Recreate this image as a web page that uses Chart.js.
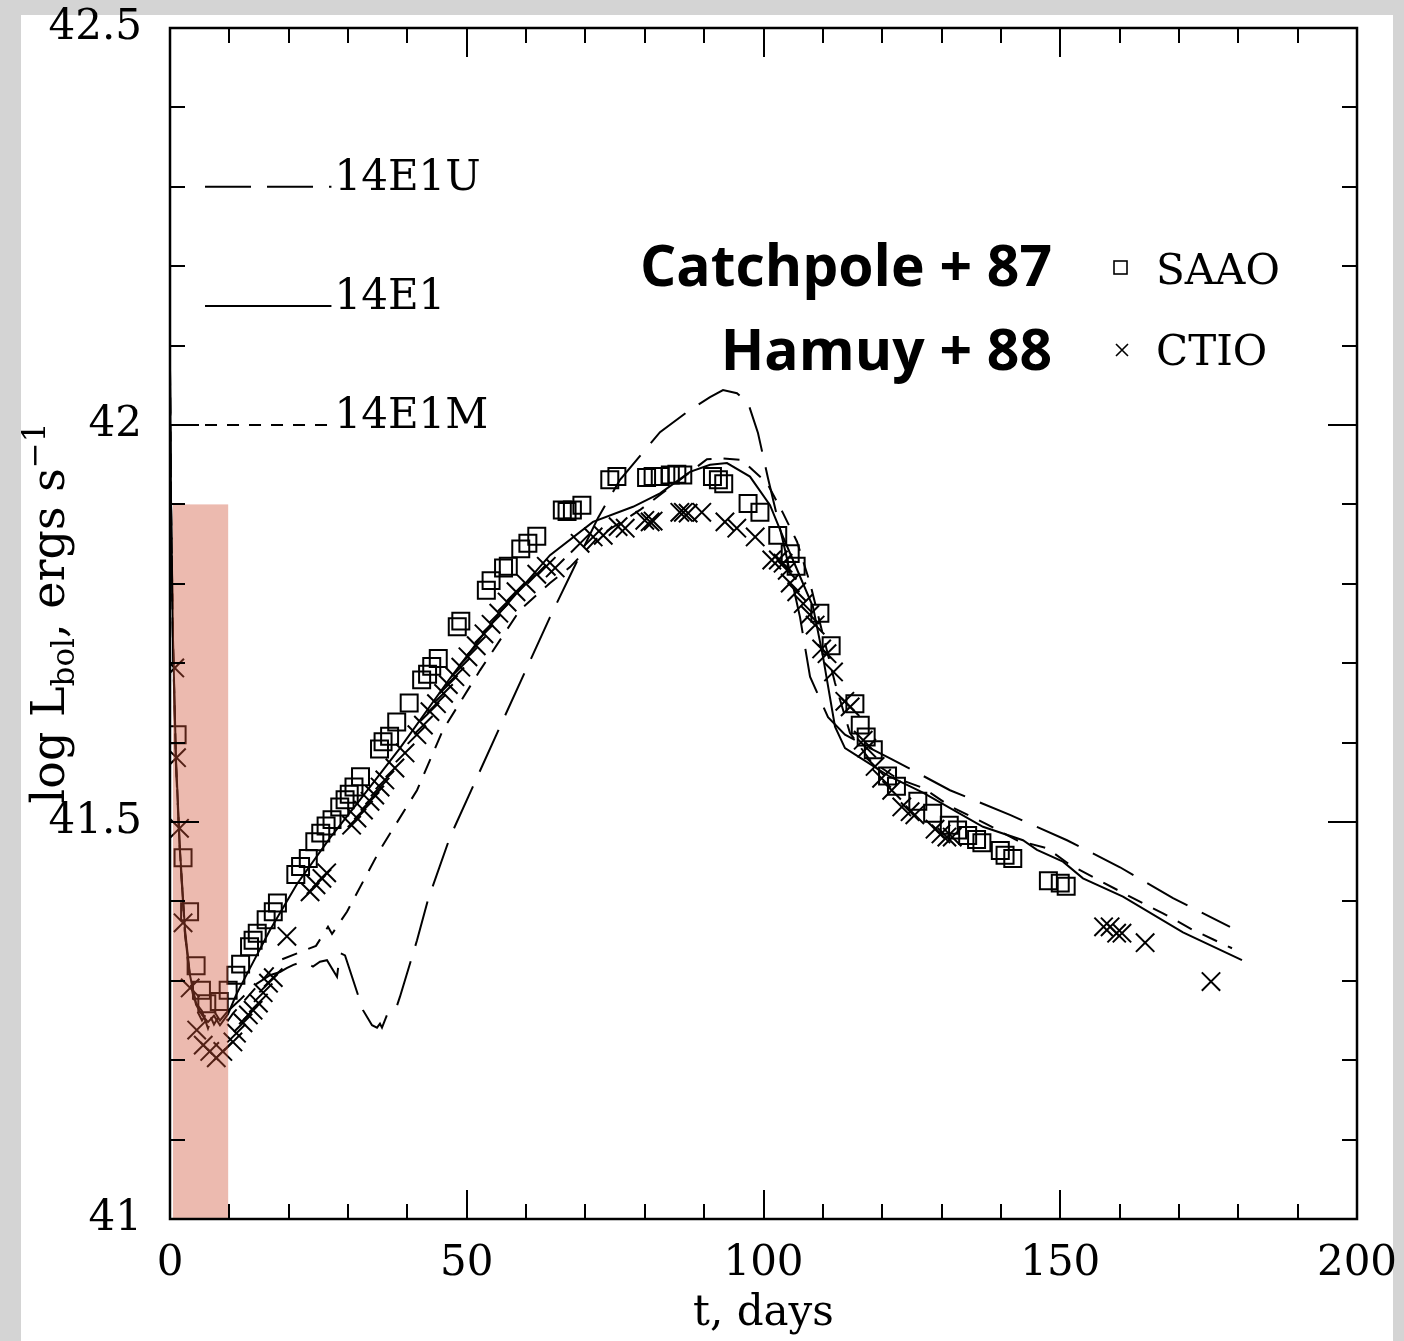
<!DOCTYPE html>
<html>
<head>
<meta charset="utf-8">
<title>SN 1987A bolometric light curve</title>
<script src="https://cdn.jsdelivr.net/npm/chart.js@4.4.0/dist/chart.umd.min.js"></script>
<style>
    html, body { margin: 0; padding: 0; background: #d4d4d4; }
    #box { width: 1404px; height: 1341px; }
</style>
</head>
<body>
<div id="box"><canvas id="lcChart" width="1404" height="1341"></canvas></div>
<script>
// observed points, SAAO (Catchpole+87)
var saaoDays = [1.2, 2.2, 3.3, 4.4, 5.3, 6.2, 8.3, 9.8, 11.1, 11.9,
    13.4, 14.0, 14.7, 16.2, 17.4, 18.1, 21.2, 22.0, 23.3, 24.4,
    25.4, 26.3, 27.3, 28.6, 29.5, 30.2, 31.0, 32.1, 35.3, 35.9,
    37.0, 38.2, 40.3, 42.4, 43.4, 44.1, 45.2, 48.4, 49.0, 53.3,
    54.1, 56.2, 57.0, 59.1, 60.3, 61.8, 66.1, 66.9, 67.8, 69.4,
    74.1, 75.3, 80.3, 81.4, 82.6, 84.3, 85.4, 86.4, 91.4, 92.4,
    93.3, 97.4, 99.4, 102.4, 104.5, 105.5, 109.5, 111.4, 115.4, 116.3,
    117.3, 118.5, 120.9, 122.4, 126.0, 128.5, 131.3, 132.7, 134.4, 135.9,
    136.8, 139.9, 140.7, 142.0, 148.0, 150.0, 151.0];
var saaoLum = [41.610, 41.455, 41.387, 41.319, 41.288, 41.271, 41.274, 41.288, 41.307, 41.321,
    41.343, 41.351, 41.360, 41.377, 41.387, 41.398, 41.434, 41.444, 41.454, 41.475,
    41.486, 41.495, 41.503, 41.519, 41.528, 41.535, 41.544, 41.557, 41.592, 41.601,
    41.608, 41.626, 41.650, 41.679, 41.686, 41.696, 41.706, 41.746, 41.753, 41.792,
    41.804, 41.820, 41.822, 41.844, 41.851, 41.860, 41.893, 41.891, 41.893, 41.899,
    41.931, 41.935, 41.934, 41.935, 41.935, 41.937, 41.938, 41.937, 41.935, 41.931,
    41.926, 41.901, 41.890, 41.861, 41.838, 41.822, 41.763, 41.722, 41.649, 41.622,
    41.607, 41.591, 41.558, 41.545, 41.526, 41.511, 41.496, 41.490, 41.483, 41.478,
    41.474, 41.464, 41.458, 41.454, 41.426, 41.423, 41.419];

// observed points, CTIO (Hamuy+88)
var ctioDays = [0.8, 1.1, 1.6, 2.2, 3.4, 4.5, 5.6, 6.7, 7.8, 8.9,
    10.6, 11.2, 12.3, 13.2, 14.0, 14.9, 15.7, 16.6, 17.4, 19.7,
    23.6, 24.6, 25.6, 26.4, 30.6, 31.5, 32.6, 33.7, 34.5, 35.4,
    36.2, 37.9, 39.6, 41.6, 42.7, 43.8, 44.9, 46.1, 46.9, 48.0,
    49.0, 50.2, 51.6, 52.9, 54.1, 55.4, 56.8, 58.3, 60.0, 61.8,
    63.4, 64.9, 69.1, 71.3, 73.0, 75.5, 76.7, 80.0, 80.9, 81.4,
    85.9, 86.5, 87.3, 89.6, 93.5, 95.5, 98.6, 101.4, 102.5, 103.3,
    104.0, 104.5, 105.6, 106.7, 107.8, 108.7, 109.8, 110.7, 111.8, 113.7,
    114.6, 116.8, 117.4, 118.8, 119.9, 121.6, 123.3, 124.7, 125.5, 128.9,
    129.9, 130.9, 131.8, 157.3, 158.4, 159.5, 160.4, 164.3, 175.4];
var ctioLum = [41.694, 41.581, 41.492, 41.373, 41.291, 41.238, 41.219, 41.211, 41.203, 41.211,
    41.223, 41.234, 41.247, 41.257, 41.263, 41.272, 41.285, 41.297, 41.304, 41.356,
    41.412, 41.421, 41.429, 41.436, 41.496, 41.505, 41.515, 41.526, 41.534, 41.544,
    41.553, 41.568, 41.587, 41.610, 41.622, 41.639, 41.649, 41.662, 41.673, 41.683,
    41.695, 41.708, 41.722, 41.737, 41.749, 41.763, 41.777, 41.790, 41.800, 41.812,
    41.822, 41.820, 41.851, 41.859, 41.861, 41.872, 41.870, 41.880, 41.878, 41.879,
    41.890, 41.890, 41.889, 41.890, 41.878, 41.870, 41.859, 41.830, 41.830, 41.826,
    41.817, 41.801, 41.790, 41.775, 41.761, 41.748, 41.718, 41.712, 41.689, 41.652,
    41.645, 41.603, 41.593, 41.570, 41.555, 41.540, 41.519, 41.513, 41.509, 41.491,
    41.485, 41.481, 41.481, 41.368, 41.368, 41.360, 41.360, 41.348, 41.299];

// model 14E1 (solid)
var m14E1Days = [0, 0.17, 0.51, 1.01, 1.68, 2.53, 3.37, 4.38, 5.39, 6.40, 7.41, 8.42, 9.77,
    11.12, 13.48, 16.85, 21.40, 26.96, 32.01, 38.75, 47.18, 55.60, 64.03, 71.27, 78.01,
    82.56, 87.62, 90.99, 93.85, 97.72, 101.10, 103.29, 105.31, 108.34, 110.03, 112.05, 113.73,
    116.26, 121.31, 126.87, 136.98, 143.72, 146.08, 150.46, 153.83, 160.57, 170.68, 180.62];
var m14E1Lum = [42.07, 41.906, 41.729, 41.578, 41.465, 41.364, 41.307, 41.270, 41.257, 41.248, 41.256, 41.244, 41.258,
    41.282, 41.316, 41.364, 41.422, 41.480, 41.528, 41.593, 41.681, 41.764, 41.836, 41.878, 41.897,
    41.914, 41.941, 41.950, 41.952, 41.935, 41.899, 41.859, 41.824, 41.771, 41.708, 41.620, 41.593,
    41.581, 41.557, 41.537, 41.494, 41.477, 41.465, 41.450, 41.429, 41.406, 41.361, 41.326];

// model 14E1M (short dashes)
var m14E1MDays = [0, 0.17, 0.51, 1.01, 1.68, 2.53, 3.37, 4.38, 5.39, 6.40, 7.41, 8.42, 9.77,
    10.61, 12.64, 18.53, 24.60, 26.62, 27.30, 29.82, 35.38, 41.62, 46.0, 52.23, 58.97, 64.03,
    67.40, 72.45, 79.19, 85.93, 90.48, 93.18, 96.38, 98.23, 100.59, 103.29, 105.65, 107.84,
    112.05, 114.57, 117.94, 122.49, 126.87, 131.42, 137.66, 142.71, 147.77, 151.64, 157.20,
    162.26, 167.31, 172.37, 178.94];
var m14E1MLum = [42.07, 41.90, 41.725, 41.575, 41.462, 41.36, 41.30, 41.265, 41.25, 41.262, 41.245, 41.258, 41.250,
    41.259, 41.276, 41.326, 41.344, 41.368, 41.359, 41.387, 41.465, 41.540, 41.616, 41.691, 41.767, 41.801,
    41.821, 41.861, 41.893, 41.931, 41.957, 41.958, 41.956, 41.943, 41.927, 41.889, 41.853, 41.801,
    41.675, 41.612, 41.578, 41.555, 41.543, 41.520, 41.497, 41.477, 41.467, 41.446, 41.424,
    41.404, 41.385, 41.364, 41.341];

// model 14E1U (long dashes)
var m14E1UDays = [0, 0.17, 0.51, 1.01, 1.68, 2.53, 3.37, 4.38, 5.39, 6.40, 7.41, 8.42, 9.77,
    11.79, 14.32, 16.85, 18.53, 19.66, 20.78, 21.57, 22.75, 23.59, 24.09, 25.27, 26.45, 28.14, 28.64, 29.49,
    32.52, 34.04, 34.88, 35.38, 35.72, 36.56, 37.91, 38.75,
    41.62, 43.47, 47.18, 55.60, 64.03, 72.11, 75.82, 82.56, 87.62, 90.99, 93.18, 95.53, 97.39, 99.07,
    100.76, 103.62, 106.15, 107.84, 110.87, 113.73, 117.94, 121.65, 131.42, 141.53, 151.14, 160.07, 169.00, 178.60];
var m14E1ULum = [42.07, 41.90, 41.72, 41.57, 41.46, 41.358, 41.305, 41.272, 41.262, 41.24, 41.262, 41.25, 41.262,
    41.276, 41.295, 41.307, 41.311, 41.316, 41.320, 41.322, 41.324, 41.320, 41.318, 41.324, 41.326, 41.305, 41.335, 41.332,
    41.263, 41.244, 41.241, 41.246, 41.241, 41.257, 41.261, 41.280,
    41.351, 41.402, 41.481, 41.620, 41.758, 41.883, 41.931, 41.991, 42.019, 42.035, 42.044, 42.040, 42.028, 41.990,
    41.933, 41.843, 41.758, 41.683, 41.632, 41.610, 41.593, 41.579, 41.540, 41.509, 41.477, 41.443, 41.404, 41.368];

var xTickLabels = [0, 50, 100, 150, 200];
var yTickLabels = [41, 41.5, 42, 42.5];

// model key in the upper left
var keyNames = ['14E1U', '14E1', '14E1M'];
var keyLevels = [42.3, 42.15, 42.0];
var keyDashes = [[46, 16], [], [12, 10]];
var keyFrom = 5.9, keyTo = 27.2;

// shaded band over the first days
var shadeDays = [0.5, 9.8];
var shadeTop = 41.9;

var serif = '"DejaVu Serif", "Liberation Serif", serif';

function pts(xs, ys) {
    var out = [];
    for (var i = 0; i < xs.length; i++) {
        out.push({ x: xs[i], y: ys[i] });
    }
    return out;
}

function near(v, list) {
    for (var i = 0; i < list.length; i++) {
        if (Math.abs(list[i] - v) < 1e-6) return true;
    }
    return false;
}

var decor = {
    id: 'decor',
    beforeDraw: function(chart) {
        var ctx = chart.ctx;
        ctx.save();
        ctx.fillStyle = '#d4d4d4';
        ctx.fillRect(0, 0, chart.width, chart.height);
        ctx.fillStyle = '#ffffff';
        ctx.fillRect(21, 15, 1372, chart.height - 15);
        ctx.restore();
    },
    afterDatasetsDraw: function(chart) {
        var ctx = chart.ctx;
        var xs = chart.scales.x, ys = chart.scales.y, a = chart.chartArea;
        ctx.save();

        // pink band
        var bx0 = xs.getPixelForValue(shadeDays[0]), bx1 = xs.getPixelForValue(shadeDays[1]);
        var by0 = ys.getPixelForValue(shadeTop), by1 = ys.getPixelForValue(41);
        ctx.fillStyle = 'rgba(207, 82, 55, 0.4)';
        ctx.fillRect(bx0, by0, bx1 - bx0, by1 - by0);

        // frame and inward ticks on all four sides
        ctx.strokeStyle = '#000';
        ctx.lineWidth = 2;
        ctx.beginPath();
        xs.ticks.forEach(function(t) {
            if (t.value <= 0 || t.value >= 200) return;
            var px = Math.round(xs.getPixelForValue(t.value));
            var len = (t.value % 50 === 0) ? 29 : 15;
            ctx.moveTo(px, a.bottom); ctx.lineTo(px, a.bottom - len);
            ctx.moveTo(px, a.top); ctx.lineTo(px, a.top + len);
        });
        ys.ticks.forEach(function(t) {
            if (t.value <= 41 || t.value >= 42.5) return;
            var py = Math.round(ys.getPixelForValue(t.value));
            var len = near(t.value, yTickLabels) ? 29 : 15;
            ctx.moveTo(a.left, py); ctx.lineTo(a.left + len, py);
            ctx.moveTo(a.right, py); ctx.lineTo(a.right - len, py);
        });
        ctx.stroke();
        ctx.lineWidth = 2.5;
        ctx.strokeRect(a.left, a.top, a.right - a.left, a.bottom - a.top);

        // model key
        ctx.lineWidth = 2;
        ctx.fillStyle = '#000';
        ctx.font = '42px ' + serif;
        ctx.textBaseline = 'alphabetic';
        ctx.textAlign = 'left';
        for (var i = 0; i < keyNames.length; i++) {
            var ky = ys.getPixelForValue(keyLevels[i]);
            ctx.setLineDash(keyDashes[i]);
            ctx.beginPath();
            ctx.moveTo(xs.getPixelForValue(keyFrom), ky);
            ctx.lineTo(xs.getPixelForValue(keyTo), ky);
            ctx.stroke();
            ctx.setLineDash([]);
            ctx.fillText(keyNames[i], xs.getPixelForValue(keyTo) + 3, ky + 3);
        }

        // data legend
        ctx.font = 'bold 57px "Open Sans", "DejaVu Sans", sans-serif';
        ctx.textAlign = 'right';
        ctx.fillText('Catchpole + 87', 1052, 286);
        ctx.fillText('Hamuy + 88', 1052, 370);

        ctx.lineWidth = 1.6;
        ctx.strokeRect(1114, 261, 13, 13);
        ctx.beginPath();
        ctx.moveTo(1116, 344); ctx.lineTo(1128, 356);
        ctx.moveTo(1128, 344); ctx.lineTo(1116, 356);
        ctx.stroke();

        ctx.font = '42px ' + serif;
        ctx.textAlign = 'left';
        ctx.fillText('SAAO', 1156, 284);
        ctx.fillText('CTIO', 1156, 365);

        // y axis title with sub- and superscript
        var parts = [
            { t: 'log L', size: 46, dy: 0 },
            { t: 'bol', size: 31, dy: 10 },
            { t: ', ergs s', size: 46, dy: 0 },
            { t: '\u22121', size: 31, dy: -19 }
        ];
        var total = 0;
        parts.forEach(function(p) {
            ctx.font = p.size + 'px ' + serif;
            p.w = ctx.measureText(p.t).width;
            total += p.w;
        });
        ctx.translate(64, 613);
        ctx.rotate(-Math.PI / 2);
        var cx = -total / 2;
        parts.forEach(function(p) {
            ctx.font = p.size + 'px ' + serif;
            ctx.fillText(p.t, cx, p.dy);
            cx += p.w;
        });
        ctx.restore();
    }
};

var ctx = document.getElementById('lcChart').getContext('2d');
var lcChart = new Chart(ctx, {
    type: 'scatter',
    data: {
        datasets: [{
            label: '14E1',
            data: pts(m14E1Days, m14E1Lum),
            showLine: true,
            borderColor: '#000',
            borderWidth: 2,
            pointRadius: 0,
            tension: 0
        }, {
            label: '14E1M',
            data: pts(m14E1MDays, m14E1MLum),
            showLine: true,
            borderColor: '#000',
            borderWidth: 2,
            borderDash: [16, 12],
            pointRadius: 0,
            tension: 0
        }, {
            label: '14E1U',
            data: pts(m14E1UDays, m14E1ULum),
            showLine: true,
            borderColor: '#000',
            borderWidth: 2,
            borderDash: [46, 16],
            pointRadius: 0,
            tension: 0
        }, {
            label: 'SAAO',
            data: pts(saaoDays, saaoLum),
            pointStyle: 'rect',
            pointRadius: 12,
            borderColor: '#000',
            backgroundColor: 'rgba(0,0,0,0)',
            borderWidth: 2
        }, {
            label: 'CTIO',
            data: pts(ctioDays, ctioLum),
            pointStyle: 'crossRot',
            pointRadius: 13,
            borderColor: '#000',
            borderWidth: 2
        }]
    },
    options: {
        responsive: false,
        animation: false,
        devicePixelRatio: 1,
        layout: { padding: { top: 28, right: 47, left: 0, bottom: 0 } },
        plugins: {
            legend: { display: false },
            tooltip: { enabled: false }
        },
        scales: {
            x: {
                type: 'linear',
                min: 0,
                max: 200,
                afterFit: function(s) {
                    s.height = 122;
                    s.paddingLeft = 0;
                    s.paddingRight = 0;
                },
                grid: { display: false, drawTicks: false },
                border: { display: false },
                ticks: {
                    stepSize: 10,
                    autoSkip: false,
                    maxRotation: 0,
                    padding: 20,
                    color: '#000',
                    font: { family: serif, size: 42 },
                    callback: function(v) { return near(v, xTickLabels) ? String(v) : ''; }
                },
                title: {
                    display: true,
                    text: 't, days',
                    color: '#000',
                    font: { family: serif, size: 42 },
                    padding: { top: 0, bottom: 2 }
                }
            },
            y: {
                type: 'linear',
                min: 41,
                max: 42.5,
                afterFit: function(s) {
                    s.width = 170;
                    s.paddingTop = 0;
                    s.paddingBottom = 0;
                },
                grid: { display: false, drawTicks: false },
                border: { display: false },
                ticks: {
                    stepSize: 0.1,
                    autoSkip: false,
                    padding: 28,
                    color: '#000',
                    font: { family: serif, size: 42 },
                    callback: function(v) { return near(v, yTickLabels) ? String(v) : ''; }
                }
            }
        }
    },
    plugins: [decor]
});
</script>
</body>
</html>
